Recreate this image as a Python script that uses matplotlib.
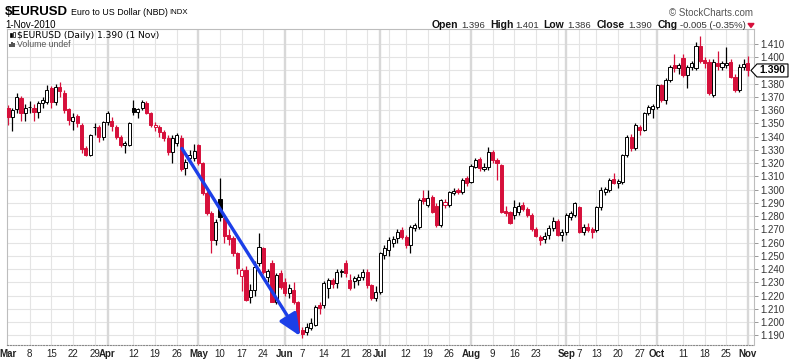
import numpy as np
import pandas as pd
import matplotlib
matplotlib.use("Agg")
import matplotlib.pyplot as plt
from matplotlib.patches import Polygon, Rectangle

plt.rcParams['font.family'] = ['Liberation Sans', 'DejaVu Sans']

# trading days on the chart (US market holidays are left out)
holidays = ["2010-04-02", "2010-05-31", "2010-07-05", "2010-09-06"]
dates = pd.bdate_range("2010-03-01", "2010-11-01")
dates = dates[~dates.isin(pd.to_datetime(holidays))]

prev_close = 1.3630   # 26 Feb close, only used to colour the first bar

opens = [
    # Mar
    1.3620, 1.3550, 1.3610, 1.3690, 1.3580, 1.3622, 1.3620, 1.3587, 1.3655, 1.3665,
    1.3770, 1.3660, 1.3775, 1.3730, 1.3610, 1.3520, 1.3556, 1.3490, 1.3315, 1.3265,
    1.3476, 1.3470, 1.3400,
    # Apr
    1.3510, 1.3520, 1.3475, 1.3400, 1.3337, 1.3340, 1.3619, 1.3587, 1.3614, 1.3655,
    1.3580, 1.3470, 1.3470, 1.3435, 1.3390, 1.3285, 1.3355, 1.3390, 1.3165, 1.3240,
    1.3240,
    # May
    1.3337, 1.3200, 1.2975, 1.2824, 1.2620, 1.2930, 1.2786, 1.2660, 1.2635, 1.2520,
    1.2350, 1.2393, 1.2190, 1.2245, 1.2446, 1.2559, 1.2340, 1.2446, 1.2152, 1.2370,
    # Jun
    1.2300, 1.2219, 1.2243, 1.2152, 1.1940, 1.1925, 1.1955, 1.1978, 1.2128, 1.2130,
    1.2260, 1.2318, 1.2295, 1.2375, 1.2446, 1.2318, 1.2310, 1.2318, 1.2340, 1.2378,
    1.2282, 1.2182,
    # Jul
    1.2227, 1.2507, 1.2544, 1.2597, 1.2635, 1.2695, 1.2640, 1.2580, 1.2711, 1.2718,
    1.2935, 1.2886, 1.2945, 1.2878, 1.2733, 1.2884, 1.2884, 1.2975, 1.2995, 1.2982,
    1.3090,
    # Aug
    1.3060, 1.3171, 1.3230, 1.3156, 1.3171, 1.3284, 1.3225, 1.3186, 1.2839, 1.2831,
    1.2808, 1.2831, 1.2884, 1.2854, 1.2808, 1.2702, 1.2642, 1.2627, 1.2657, 1.2710,
    1.2763, 1.2657,
    # Sep
    1.2680, 1.2793, 1.2808, 1.2869, 1.2680, 1.2718, 1.2702, 1.2695, 1.2869, 1.2982,
    1.2997, 1.3080, 1.3050, 1.3058, 1.3262, 1.3400, 1.3315, 1.3473, 1.3450, 1.3580,
    1.3610,
    # Oct
    1.3625, 1.3790, 1.3677, 1.3828, 1.3940, 1.3920, 1.3994, 1.3867, 1.3926, 1.3920,
    1.4087, 1.3977, 1.3964, 1.3715, 1.3957, 1.3925, 1.3940, 1.3964, 1.3850, 1.3753,
    1.3926,
    # Nov
    1.3960,
]

highs = [
    1.3640, 1.3620, 1.3730, 1.3710, 1.3650, 1.3670, 1.3650, 1.3670, 1.3700, 1.3790,
    1.3780, 1.3800, 1.3810, 1.3750, 1.3620, 1.3580, 1.3570, 1.3500, 1.3330, 1.3420,
    1.3500, 1.3490, 1.3520,
    1.3595, 1.3545, 1.3490, 1.3410, 1.3370, 1.3510, 1.3680, 1.3620, 1.3680, 1.3670,
    1.3590, 1.3510, 1.3490, 1.3450, 1.3410, 1.3410, 1.3425, 1.3410, 1.3230, 1.3300,
    1.3345,
    1.3345, 1.3210, 1.2990, 1.2840, 1.2780, 1.3090, 1.2800, 1.2700, 1.2650, 1.2530,
    1.2410, 1.2420, 1.2290, 1.2460, 1.2673, 1.2570, 1.2400, 1.2470, 1.2370, 1.2390,
    1.2330, 1.2290, 1.2300, 1.2160, 1.1960, 1.1990, 1.2030, 1.2130, 1.2150, 1.2310,
    1.2330, 1.2330, 1.2400, 1.2400, 1.2470, 1.2360, 1.2350, 1.2360, 1.2400, 1.2400,
    1.2290, 1.2270,
    1.2530, 1.2580, 1.2640, 1.2650, 1.2700, 1.2720, 1.2660, 1.2730, 1.2750, 1.2940,
    1.3000, 1.2997, 1.2960, 1.2900, 1.2930, 1.2930, 1.2990, 1.3010, 1.3010, 1.3090,
    1.3100,
    1.3190, 1.3240, 1.3250, 1.3200, 1.3322, 1.3300, 1.3240, 1.3190, 1.2880, 1.2840,
    1.2922, 1.2907, 1.2910, 1.2870, 1.2820, 1.2720, 1.2660, 1.2680, 1.2730, 1.2790,
    1.2780, 1.2700,
    1.2820, 1.2840, 1.2910, 1.2880, 1.2740, 1.2750, 1.2720, 1.2880, 1.3020, 1.3020,
    1.3090, 1.3126, 1.3080, 1.3270, 1.3410, 1.3420, 1.3500, 1.3490, 1.3590, 1.3640,
    1.3650,
    1.3800, 1.3800, 1.3840, 1.3940, 1.4025, 1.3960, 1.4025, 1.3940, 1.3975, 1.4115,
    1.4160, 1.4000, 1.3985, 1.3985, 1.4050, 1.3975, 1.4080, 1.3990, 1.3870, 1.3950,
    1.3990,
    1.4010,
]

lows = [
    1.3490, 1.3440, 1.3580, 1.3520, 1.3520, 1.3580, 1.3520, 1.3540, 1.3620, 1.3650,
    1.3620, 1.3640, 1.3700, 1.3580, 1.3490, 1.3450, 1.3470, 1.3280, 1.3255, 1.3255,
    1.3410, 1.3360, 1.3375,
    1.3490, 1.3440, 1.3380, 1.3320, 1.3280, 1.3330, 1.3560, 1.3540, 1.3600, 1.3570,
    1.3470, 1.3445, 1.3400, 1.3370, 1.3260, 1.3200, 1.3330, 1.3140, 1.3110, 1.3200,
    1.3220,
    1.3185, 1.2960, 1.2810, 1.2520, 1.2580, 1.2760, 1.2600, 1.2580, 1.2500, 1.2360,
    1.2235, 1.2160, 1.2145, 1.2195, 1.2420, 1.2360, 1.2300, 1.2150, 1.2140, 1.2250,
    1.2200, 1.2180, 1.2140, 1.1915, 1.1880, 1.1900, 1.1940, 1.1970, 1.2060, 1.2110,
    1.2180, 1.2260, 1.2260, 1.2340, 1.2340, 1.2240, 1.2260, 1.2280, 1.2320, 1.2260,
    1.2170, 1.2160,
    1.2210, 1.2480, 1.2500, 1.2570, 1.2600, 1.2630, 1.2560, 1.2520, 1.2690, 1.2700,
    1.2890, 1.2870, 1.2820, 1.2720, 1.2720, 1.2860, 1.2870, 1.2960, 1.2970, 1.2970,
    1.3030,
    1.3050, 1.3160, 1.3140, 1.3140, 1.3150, 1.3200, 1.3070, 1.2820, 1.2800, 1.2740,
    1.2780, 1.2810, 1.2840, 1.2790, 1.2690, 1.2640, 1.2580, 1.2600, 1.2630, 1.2690,
    1.2650, 1.2610,
    1.2660, 1.2770, 1.2790, 1.2670, 1.2660, 1.2680, 1.2635, 1.2680, 1.2850, 1.2960,
    1.2980, 1.3040, 1.3010, 1.3040, 1.3250, 1.3290, 1.3300, 1.3410, 1.3440, 1.3560,
    1.3540,
    1.3610, 1.3660, 1.3650, 1.3810, 1.3890, 1.3870, 1.3850, 1.3768, 1.3900, 1.3900,
    1.3960, 1.3920, 1.3715, 1.3700, 1.3900, 1.3900, 1.3920, 1.3840, 1.3735, 1.3740,
    1.3900,
    1.3860,
]

closes = [
    1.3545, 1.3600, 1.3700, 1.3580, 1.3620, 1.3627, 1.3590, 1.3655, 1.3677, 1.3753,
    1.3660, 1.3775, 1.3745, 1.3600, 1.3525, 1.3548, 1.3500, 1.3305, 1.3265, 1.3410,
    1.3470, 1.3400, 1.3510,
    1.3580, 1.3480, 1.3400, 1.3340, 1.3356, 1.3500, 1.3584, 1.3612, 1.3664, 1.3580,
    1.3490, 1.3485, 1.3435, 1.3390, 1.3285, 1.3390, 1.3410, 1.3155, 1.3210, 1.3262,
    1.3290,
    1.3200, 1.2975, 1.2824, 1.2620, 1.2756, 1.2790, 1.2650, 1.2625, 1.2520, 1.2405,
    1.2393, 1.2167, 1.2245, 1.2416, 1.2567, 1.2378, 1.2382, 1.2152, 1.2356, 1.2265,
    1.2219, 1.2257, 1.2152, 1.1925, 1.1912, 1.1963, 1.1993, 1.2115, 1.2106, 1.2295,
    1.2318, 1.2287, 1.2378, 1.2385, 1.2370, 1.2257, 1.2335, 1.2340, 1.2378, 1.2282,
    1.2182, 1.2227,
    1.2520, 1.2559, 1.2620, 1.2627, 1.2680, 1.2640, 1.2580, 1.2718, 1.2733, 1.2920,
    1.2918, 1.2938, 1.2831, 1.2733, 1.2922, 1.2907, 1.2982, 1.2990, 1.2985, 1.3073,
    1.3050,
    1.3180, 1.3223, 1.3165, 1.3171, 1.3284, 1.3223, 1.3200, 1.2831, 1.2824, 1.2748,
    1.2869, 1.2875, 1.2854, 1.2808, 1.2702, 1.2650, 1.2620, 1.2650, 1.2710, 1.2763,
    1.2657, 1.2680,
    1.2808, 1.2824, 1.2900, 1.2680, 1.2718, 1.2695, 1.2680, 1.2869, 1.2997, 1.3005,
    1.3073, 1.3050, 1.3065, 1.3262, 1.3400, 1.3315, 1.3490, 1.3450, 1.3580, 1.3625,
    1.3632,
    1.3790, 1.3677, 1.3828, 1.3926, 1.3920, 1.3940, 1.3867, 1.3926, 1.3957, 1.4087,
    1.3975, 1.3955, 1.3730, 1.3964, 1.3934, 1.3955, 1.3957, 1.3850, 1.3753, 1.3926,
    1.3950,
    1.3900,
]

# hand-drawn trend arrow (bar index, price)
arrow_from = (40.2, 1.3311)
arrow_to = (67.5, 1.1895)

RED = '#d6103b'
BLUE = '#1c3fe8'
W, H = 800, 359


def fx(px):
    return px / W


def fy(py):
    return 1 - py / H


fig = plt.figure(figsize=(W / 100, H / 100), dpi=100)
ax = fig.add_axes([fx(7), fy(345), fx(754) - fx(7), fy(29) - fy(345)])

x = np.arange(len(dates))
o, h, l, c = map(np.array, (opens, highs, lows, closes))

ax.set_xlim(-0.23, len(dates) + 0.4)
ax.set_ylim(1.1827, 1.4213)

# grid
yticks = np.round(np.arange(1.19, 1.4101, 0.01), 3)
for yv in yticks:
    ax.axhline(yv, color='#e4e4e4', lw=0.8, zorder=0)

month_starts = [i for i in range(len(dates)) if i == 0 or dates[i].month != dates[i - 1].month]
week_starts = [i for i in range(1, len(dates)) if dates[i].weekday() < dates[i - 1].weekday()]
for i in week_starts:
    if min(abs(i - m) for m in month_starts) > 1:
        ax.axvline(i, color='#e4e4e4', lw=0.8, zorder=0)
for i in month_starts[1:]:
    ax.axvline(i, color='#d8d8d8', lw=1.7, zorder=0)

# candles
prev = np.r_[prev_close, c[:-1]]
colors = np.where(c < prev, RED, 'black')
filled = c < o
ax.vlines(x, l, h, colors=colors, lw=0.9, zorder=2)
body_lo = np.minimum(o, c)
body_h = np.maximum(np.abs(c - o), 0.0003)
faces = np.where(filled, colors, 'white')
ax.bar(x, body_h, bottom=body_lo, width=0.72, color=faces, edgecolor=colors,
       linewidth=0.7, zorder=3)

ax.annotate('', xy=arrow_to, xytext=arrow_from, zorder=5,
            arrowprops=dict(arrowstyle='-|>,head_length=0.95,head_width=0.42',
                            color=BLUE, lw=2.4, shrinkA=0, shrinkB=0,
                            mutation_scale=14))

# axes styling
for s in ['top', 'left', 'right']:
    ax.spines[s].set_color('#bdbdbd')
    ax.spines[s].set_linewidth(0.8)
ax.spines['bottom'].set_color('#888888')
ax.spines['bottom'].set_linestyle((0, (1, 1.5)))
ax.spines['bottom'].set_linewidth(0.8)

ax.yaxis.tick_right()
ax.set_yticks(yticks)
ax.set_yticklabels([f'{v:.3f}' for v in yticks])
ax.tick_params(axis='y', length=3, width=0.6, color='#888888', labelsize=7,
               labelcolor='#333333', pad=1.5)

tick_pos, tick_lab, tick_bold = [], [], []
for i in month_starts:
    tick_pos.append(i)
    tick_lab.append(dates[i].strftime('%b'))
    tick_bold.append(True)
for i in week_starts:
    if min(abs(i - m) for m in month_starts) > 2:
        tick_pos.append(i)
        tick_lab.append(str(dates[i].day))
        tick_bold.append(False)
ax.set_xticks(tick_pos)
ax.set_xticklabels(tick_lab)
for t, b in zip(ax.get_xticklabels(), tick_bold):
    if b:
        t.set_fontweight('bold')
ax.tick_params(axis='x', length=0, pad=3, labelsize=7, labelcolor='#222222')

# current price flag on the right axis
yp = ax.transData.transform((0, c[-1]))[1] / fig.bbox.height
hh = 6.5 / H
flag = Polygon([(fx(751), yp), (fx(757), yp + hh), (fx(788), yp + hh),
                (fx(788), yp - hh), (fx(757), yp - hh)], closed=True,
               transform=fig.transFigure, facecolor='white', edgecolor='black',
               lw=0.8, zorder=10)
fig.add_artist(flag)
fig.text(fx(772.5), yp, f'{c[-1]:.3f}', ha='center', va='center', fontsize=7.5,
         fontweight='bold', zorder=11)


def ftxt(px, py, s, **kw):
    kw.setdefault('va', 'center')
    fig.text(fx(px), fy(py), s, **kw)


# header
ftxt(5, 12, '$EURUSD', fontsize=9.5, fontweight='bold')
ftxt(71, 12.5, 'Euro to US Dollar (NBD)', fontsize=6.4)
ftxt(169, 13, 'INDX', fontsize=5.6)
ftxt(5, 24.5, '1-Nov-2010', fontsize=7)
ftxt(17, 35, '$EURUSD (Daily) 1.390 (1 Nov)', fontsize=6.6, family='DejaVu Sans')
ftxt(17, 44.5, 'Volume undef', fontsize=6.3, color='#555555')
ftxt(753, 13, '\u00a9 StockCharts.com', fontsize=7, color='#555555', ha='right')

parts = [(432, 'Open', True), (461, '1.396', False), (490, 'High', True),
         (515, '1.401', False), (543, 'Low', True), (567, '1.386', False),
         (597, 'Close', True), (628, '1.390', False), (658, 'Chg', True),
         (680, '-0.005 (-0.35%)', False)]
for px, s, b in parts:
    ftxt(px, 25, s, fontsize=7.5 if b else 6.8,
         fontweight='bold' if b else 'normal', color='#111111' if b else '#333333')
fig.add_artist(Polygon([(fx(748), fy(23.5)), (fx(754), fy(23.5)), (fx(751), fy(27.5))],
                       closed=True, transform=fig.transFigure, color=RED))

# little legend icons
for (px, py, w, hgt, fc) in [(9.5, 33, 2, 4, 'black'), (12.5, 32, 2, 5, 'white')]:
    fig.add_artist(Rectangle((fx(px), fy(py + hgt)), w / W, hgt / H, transform=fig.transFigure,
                             facecolor=fc, edgecolor='black', lw=0.5))
for (px, hgt) in [(9, 3), (11, 5), (13, 4)]:
    fig.add_artist(Rectangle((fx(px), fy(47)), 1.5 / W, hgt / H, transform=fig.transFigure,
                             facecolor='#555555', edgecolor='none'))

fig.savefig('out.png', dpi=100)
